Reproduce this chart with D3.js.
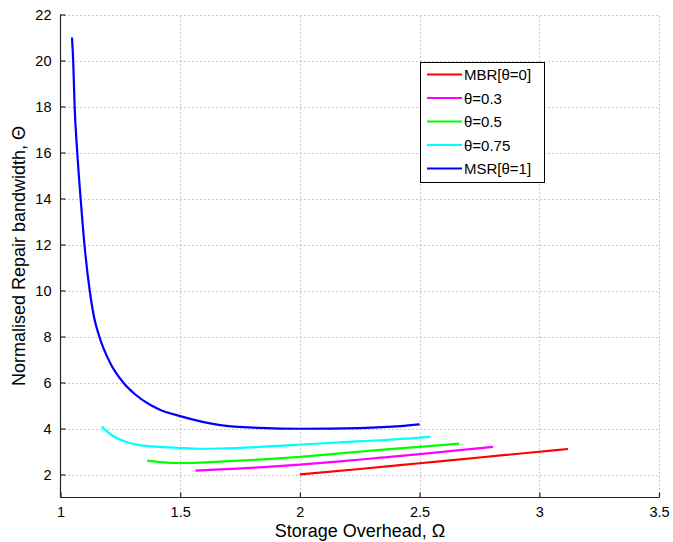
<!DOCTYPE html>
<html><head><meta charset="utf-8">
<script src="https://cdn.jsdelivr.net/npm/d3@7"></script>
<style>body{margin:0;background:#fff;} svg{display:block;font-family:"Liberation Sans",Arial,sans-serif;}</style>
</head><body><svg id="c" width="673" height="542"></svg>
<script>
const xTicks = [1, 1.5, 2, 2.5, 3, 3.5];
const yTicks = [2, 4, 6, 8, 10, 12, 14, 16, 18, 20, 22];
const seriesNames = ["MBR[θ=0]", "θ=0.3", "θ=0.5", "θ=0.75", "MSR[θ=1]"];
const seriesColors = ["#ff0000", "#ff00ff", "#00ff00", "#00ffff", "#0000ff"];
const mbrX = [2.0, 2.25, 2.5, 2.75, 3.0, 3.12];
const mbrY = [2.0, 2.24, 2.49, 2.74, 2.99, 3.11];
const t03X = [1.564, 1.667, 1.833, 2.0, 2.167, 2.336, 2.5, 2.667, 2.807];
const t03Y = [2.17, 2.22, 2.31, 2.43, 2.57, 2.73, 2.89, 3.06, 3.2];
const t05X = [1.362, 1.415, 1.5, 1.583, 1.667, 1.833, 2.0, 2.167, 2.336, 2.5, 2.665];
const t05Y = [2.6, 2.54, 2.5, 2.52, 2.56, 2.65, 2.77, 2.92, 3.07, 3.2, 3.34];
const t075X = [1.172, 1.21, 1.248, 1.29, 1.332, 1.415, 1.5, 1.583, 1.667, 1.833, 2.0, 2.167, 2.336, 2.545];
const t075Y = [4.08, 3.74, 3.52, 3.37, 3.28, 3.2, 3.15, 3.12, 3.13, 3.2, 3.3, 3.4, 3.49, 3.64];
const msrX = [1.048, 1.053, 1.059, 1.07, 1.084, 1.10, 1.122, 1.14, 1.162, 1.207, 1.262, 1.31, 1.374, 1.415, 1.5, 1.667, 1.833, 2.0, 2.25, 2.42, 2.5];
const msrY = [21.0, 20.0, 18.0, 16.0, 14.0, 12.0, 10.0, 8.85, 8.0, 6.86, 6.0, 5.5, 5.03, 4.82, 4.54, 4.15, 4.03, 3.99, 4.02, 4.1, 4.18];
const seriesX = [mbrX, t03X, t05X, t075X, msrX];
const seriesY = [mbrY, t03Y, t05Y, t075Y, msrY];

const svg = d3.select("#c");
const L = 60.5, R = 659, T = 14.5, B = 497.5;
const x = d3.scaleLinear().domain([1, 3.5]).range([L, R]);
const y = d3.scaleLinear().domain([1, 22]).range([B, T]);

// grid
const g = svg.append("g");
g.selectAll(".gx").data(xTicks.slice(1)).enter().append("line")
  .attr("x1", d => Math.round(x(d)) + 0.5).attr("x2", d => Math.round(x(d)) + 0.5)
  .attr("y1", B).attr("y2", T)
  .attr("stroke", "#999").attr("stroke-width", 1).attr("stroke-dasharray", "1,3");
g.selectAll(".gy").data(yTicks).enter().append("line")
  .attr("y1", d => Math.round(y(d)) + 0.5).attr("y2", d => Math.round(y(d)) + 0.5)
  .attr("x1", L).attr("x2", R)
  .attr("stroke", "#999").attr("stroke-width", 1).attr("stroke-dasharray", "1,3");

// axes
const xAxis = d3.axisBottom(x).tickValues(xTicks).tickSize(-5).tickPadding(9)
  .tickFormat(d => String(d));
const yAxis = d3.axisLeft(y).tickValues(yTicks).tickSize(-5).tickPadding(9)
  .tickFormat(d => String(d));
const ax = svg.append("g").attr("transform", `translate(0,${B})`).call(xAxis);
const ay = svg.append("g").attr("transform", `translate(${L},0)`).call(yAxis);
[ax, ay].forEach(a => {
  a.select(".domain").attr("stroke", "#222").attr("stroke-width", 1.2);
  a.selectAll(".tick line").attr("stroke", "#222").attr("stroke-width", 1.2);
  a.selectAll("text").attr("font-size", 14.5).attr("fill", "#000")
    .attr("font-family", "Liberation Sans, Arial, sans-serif");
});
ax.select(".domain").attr("d", `M${L},0H${R}`);
ay.select(".domain").attr("d", `M0,${B}V${T}`);

// lines
const line = d3.line().x(d => x(d[0])).y(d => y(d[1])).curve(d3.curveMonotoneX);
seriesX.forEach((xs, i) => {
  const pts = xs.map((v, j) => [v, seriesY[i][j]]);
  svg.append("path").datum(pts).attr("d", line)
    .attr("fill", "none").attr("stroke", seriesColors[i]).attr("stroke-width", 2.2);
});

// axis labels
svg.append("text").attr("x", 360).attr("y", 537).attr("text-anchor", "middle")
  .attr("font-size", 18).text("Storage Overhead, Ω");
svg.append("text").attr("transform", "translate(25,256) rotate(-90)").attr("text-anchor", "middle")
  .attr("font-size", 18).text("Normalised Repair bandwidth,  Θ");

// legend
const lg = svg.append("g");
lg.append("rect").attr("x", 420.5).attr("y", 62.5).attr("width", 124).attr("height", 120)
  .attr("fill", "#fff").attr("stroke", "#000").attr("stroke-width", 1);
seriesNames.forEach((n, i) => {
  const yy = 74.5 + i * 23.5;
  lg.append("line").attr("x1", 427).attr("x2", 462).attr("y1", yy).attr("y2", yy)
    .attr("stroke", seriesColors[i]).attr("stroke-width", 2);
  lg.append("text").attr("x", 464).attr("y", yy + 5.5).attr("font-size", 15).text(n);
});
</script></body></html>
